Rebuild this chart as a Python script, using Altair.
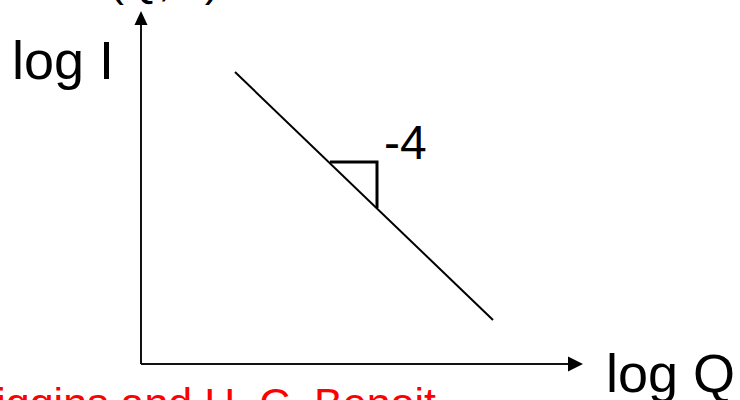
import altair as alt
import pandas as pd

# Schematic Porod regime: log I against log Q (arbitrary units, origin at the axes' corner)
curve_log_q = [0.94, 3.52]
curve_log_i = [2.92, 0.44]

# Slope triangle drawn against the curve
tri_log_q = [1.89, 2.36, 2.36]
tri_log_i = [2.02, 2.02, 1.56]

# Axis shafts: start and end points
axis_q0 = [0.0, 0.0]
axis_i0 = [0.0, 0.0]
axis_q1 = [0.0, 4.27]
axis_i1 = [3.39, 0.0]

# Arrow heads at the ends of the two axes
head_up_q, head_up_i = [0.0], [3.46]
head_right_q, head_right_i = [4.345], [0.0]

# Text labels and their anchor positions
y_label, y_label_q, y_label_i = ["log I"], [-1.29], [2.85]
x_label, x_label_q, x_label_i = ["log Q"], [4.65], [-0.28]
slope_label, slope_q, slope_i = ["-4"], [2.43], [2.05]
top_label, top_q, top_i = ["I(Q,ω)"], [-0.44], [3.68]
credit, credit_q, credit_i = ["J. S. Higgins and H. C. Benoit"], [2.95], [-0.535]

X_DOMAIN = [-1.41, 5.99]
Y_DOMAIN = [-0.36, 3.64]
FONT = "Liberation Sans"


def xenc():
    return alt.X("q:Q", scale=alt.Scale(domain=X_DOMAIN, nice=False, zero=False), axis=None)


def yenc():
    return alt.Y("i:Q", scale=alt.Scale(domain=Y_DOMAIN, nice=False, zero=False), axis=None)


axes_df = pd.DataFrame({"q": axis_q0, "i": axis_i0, "q2": axis_q1, "i2": axis_i1})
axes = alt.Chart(axes_df).mark_rule(color="#111111", strokeWidth=2).encode(
    x=xenc(), y=yenc(), x2="q2:Q", y2="i2:Q"
)

head_up = alt.Chart(pd.DataFrame({"q": head_up_q, "i": head_up_i})).mark_point(
    shape="M0,-1L0.93,1L-0.93,1Z", size=196, filled=True, color="black", opacity=1, strokeWidth=0
).encode(x=xenc(), y=yenc())

head_right = alt.Chart(pd.DataFrame({"q": head_right_q, "i": head_right_i})).mark_point(
    shape="M1,0L-1,1L-1,-1Z", size=225, filled=True, color="black", opacity=1, strokeWidth=0
).encode(x=xenc(), y=yenc())

curve = alt.Chart(pd.DataFrame({"q": curve_log_q, "i": curve_log_i})).mark_line(
    color="black", strokeWidth=2
).encode(x=xenc(), y=yenc())

tri_df = pd.DataFrame({"q": tri_log_q, "i": tri_log_i, "k": list(range(len(tri_log_q)))})
triangle = alt.Chart(tri_df).mark_line(color="black", strokeWidth=3).encode(
    x=xenc(), y=yenc(), order="k:O"
)


def label(text, qs, is_, size, color="black", align="left"):
    df = pd.DataFrame({"q": qs, "i": is_, "t": text})
    return alt.Chart(df).mark_text(
        align=align, baseline="alphabetic", font=FONT, fontSize=size, color=color
    ).encode(x=xenc(), y=yenc(), text="t:N")


chart = alt.layer(
    axes,
    head_up,
    head_right,
    curve,
    triangle,
    label(y_label, y_label_q, y_label_i, 54),
    label(x_label, x_label_q, x_label_i, 54),
    label(slope_label, slope_q, slope_i, 48),
    label(top_label, top_q, top_i, 44),
    label(credit, credit_q, credit_i, 43, color="#ff0000", align="right"),
).properties(
    width=740,
    height=400,
    autosize=alt.AutoSizeParams(type="none"),
    padding=0,
    background="white",
).configure_view(stroke=None)

chart.save("out.html", embed_options={"renderer": "svg", "actions": False})
